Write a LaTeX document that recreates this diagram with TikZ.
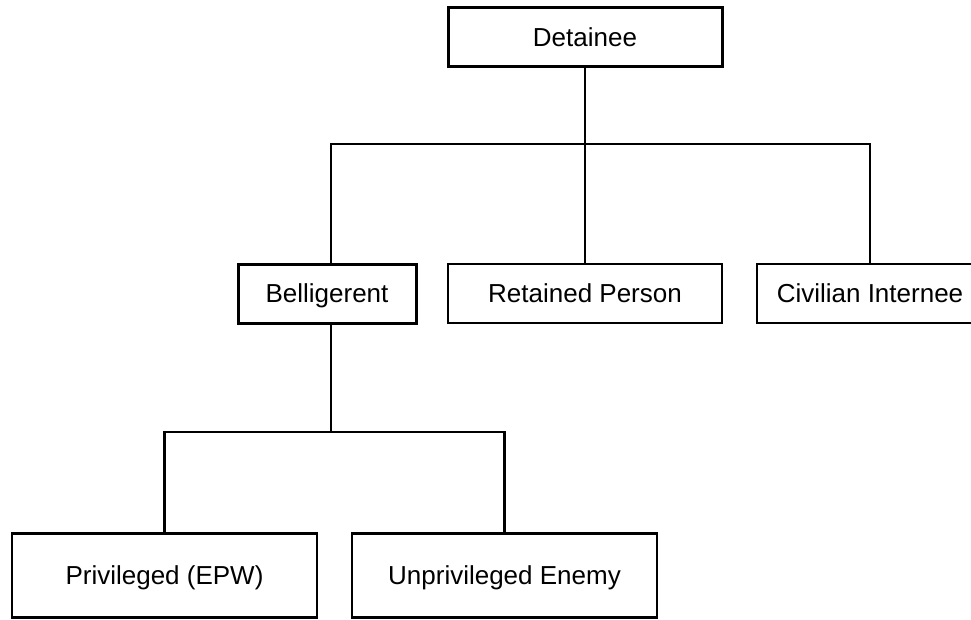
\documentclass[tikz,border=0pt]{standalone}
\usepackage{fontspec}
\setmainfont{Liberation Sans}
\begin{document}
\begin{tikzpicture}[x=1pt,y=-1pt,
  boxbase/.style={draw=black, rectangle, inner sep=0pt, font=\fontsize{26}{30}\selectfont, text height=21pt, text depth=3pt, line join=miter},
  thickbox/.style={boxbase, line width=3pt},
  thinbox/.style={boxbase, line width=2.2pt},
  link/.style={draw=black, line width=2.2pt, line join=miter}]
\useasboundingbox (0,0) rectangle (971,620);
\clip (0,0) rectangle (971,620);
\node[thickbox, minimum width=274pt, minimum height=59pt] (det) at (585,37.5) {Detainee};
\node[thickbox, minimum width=178pt, minimum height=59pt] (bel) at (327,293.5) {Belligerent};
\node[thinbox, minimum width=274pt, minimum height=59pt] (ret) at (585,293.5) {Retained Person};
\node[thinbox, minimum width=226pt, minimum height=59pt] (civ) at (870,293.5) {Civilian Internee};
\node[thinbox, minimum width=305pt, minimum height=84pt] (priv) at (164.5,575.5) {Privileged (EPW)};
\node[thinbox, minimum width=305pt, minimum height=84pt] (unp) at (504.5,575.5) {Unprivileged Enemy};
\coordinate (j1) at (585,144);
\coordinate (j2) at (331,432);
\draw[link] (det.south) -- (ret.north);
\draw[link] (331,264) |- (j1) -| (civ.north);
\draw[link] (331,323) -- (j2);
\draw[link] (priv.north) |- (j2) -| (unp.north);
\end{tikzpicture}
\end{document}
